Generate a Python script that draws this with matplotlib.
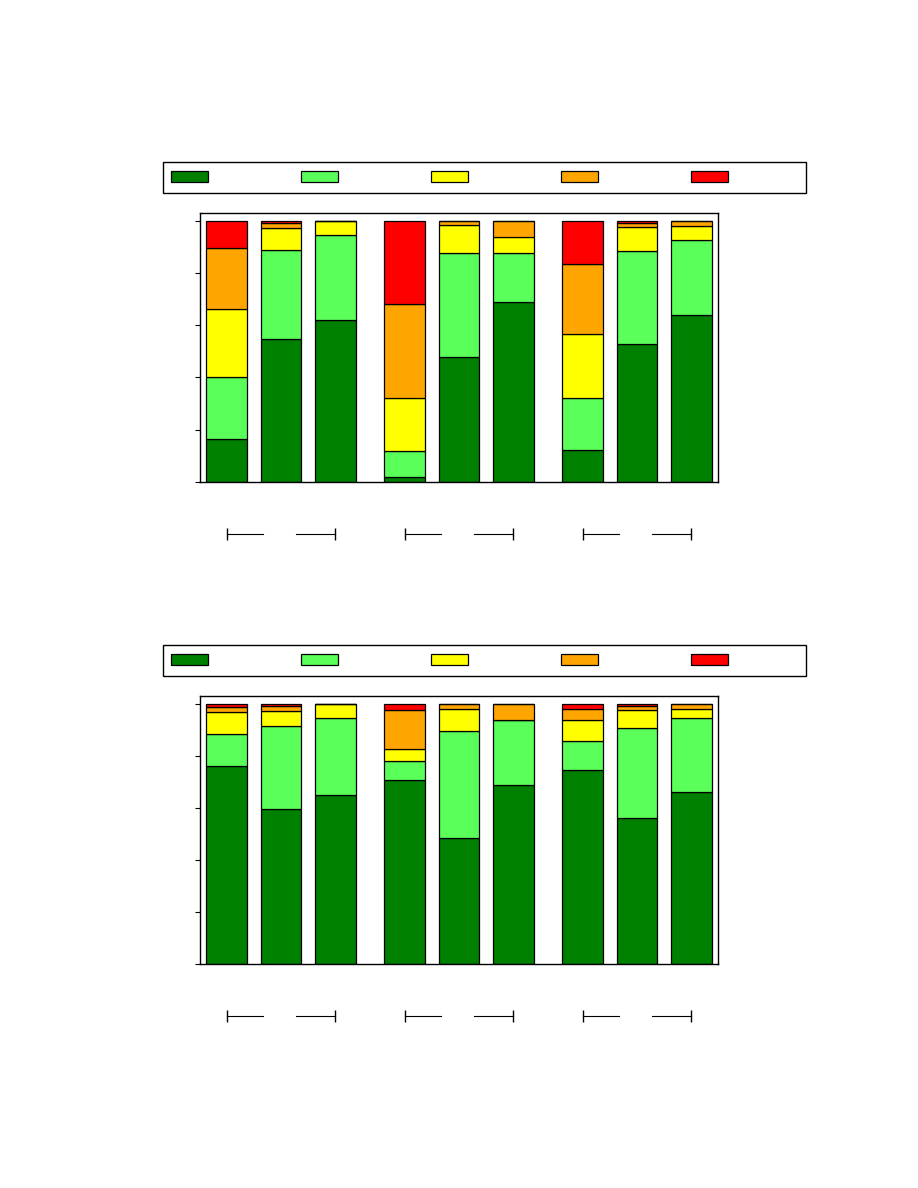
import numpy as np
import matplotlib
matplotlib.use("Agg")
import matplotlib.pyplot as plt
import matplotlib.transforms as mtransforms
from matplotlib.patches import Patch

# colours of the five stacked categories (best -> worst)
colors = ["#008000", "#5aff5a", "#ffff00", "#ffa500", "#ff0000"]

# 3 groups x 3 bars, percentages per category
top_dark = [16.6, 54.7, 61.8, 1.9, 48.0, 68.9, 12.4, 52.8, 64.0]
top_light = [23.7, 34.0, 32.8, 10.1, 39.6, 18.7, 19.6, 35.5, 28.7]
top_yellow = [25.9, 8.5, 5.4, 20.0, 10.6, 6.3, 24.6, 9.3, 5.2]
top_orange = [23.4, 1.9, 0.0, 36.1, 1.8, 6.1, 26.8, 1.6, 2.1]
top_red = [10.4, 0.9, 0.0, 31.9, 0.0, 0.0, 16.6, 0.8, 0.0]

bot_dark = [76.2, 59.7, 64.7, 70.8, 48.2, 68.9, 74.4, 55.9, 66.2]
bot_light = [12.2, 31.5, 29.9, 7.3, 41.4, 24.8, 11.4, 34.9, 28.4]
bot_yellow = [8.4, 6.1, 5.4, 4.5, 8.5, 0.0, 7.7, 6.9, 3.5]
bot_orange = [1.7, 1.8, 0.0, 15.1, 1.9, 6.3, 4.6, 1.5, 1.9]
bot_red = [1.5, 0.9, 0.0, 2.3, 0.0, 0.0, 1.9, 0.8, 0.0]

n_groups = 3
per_group = 3
group_step = 3.27
pos = np.array([g * group_step + i for g in range(n_groups) for i in range(per_group)])


def draw_panel(ax, series):
    bottom = np.zeros(len(pos))
    for vals, c in zip(series, colors):
        vals = np.array(vals)
        ax.bar(pos, vals, width=0.75, bottom=bottom, color=c,
               edgecolor="black", linewidth=0.9)
        bottom += vals
    ax.set_xlim(pos[0] - 0.49, pos[-1] + 0.49)
    ax.set_ylim(0, 102.9)
    ax.set_yticks(np.arange(0, 101, 20))
    ax.set_yticklabels([])
    ax.set_xticks([])
    ax.tick_params(axis="y", direction="out", length=3.6, width=0.8)
    for s in ax.spines.values():
        s.set_linewidth(1.0)
    # group brackets below the axis
    trans = mtransforms.blended_transform_factory(ax.transData, ax.transAxes)
    for g in range(n_groups):
        first = pos[g * per_group]
        last = pos[g * per_group + per_group - 1]
        ax.plot([first, first + 0.67], [-0.193, -0.193], color="black", lw=0.8,
                marker="|", markersize=8, markevery=[0], transform=trans, clip_on=False)
        ax.plot([last - 0.73, last], [-0.193, -0.193], color="black", lw=0.8,
                marker="|", markersize=8, markevery=[1], transform=trans, clip_on=False)


fig = plt.figure(figsize=(9.18, 11.88), dpi=100)
ax1 = fig.add_axes([200 / 918, 1 - 482 / 1188, 518 / 918, 269 / 1188])
ax2 = fig.add_axes([200 / 918, 1 - 964 / 1188, 518 / 918, 268 / 1188])

draw_panel(ax1, [top_dark, top_light, top_yellow, top_orange, top_red])
draw_panel(ax2, [bot_dark, bot_light, bot_yellow, bot_orange, bot_red])

handles = [Patch(facecolor=c, edgecolor="black", linewidth=0.9) for c in colors]
for ytop in [162, 645]:
    leg = fig.legend(handles, [""] * 5, loc="upper left", ncol=5,
                     bbox_to_anchor=(163 / 918, 1 - ytop / 1188),
                     bbox_transform=fig.transFigure, borderaxespad=0,
                     fancybox=False, framealpha=1, edgecolor="black",
                     fontsize=10, handlelength=2.66, handleheight=0.79,
                     handletextpad=5.0, columnspacing=1.69, borderpad=0.6)
    leg.get_frame().set_linewidth(1.0)

fig.savefig("out.png", dpi=100)
